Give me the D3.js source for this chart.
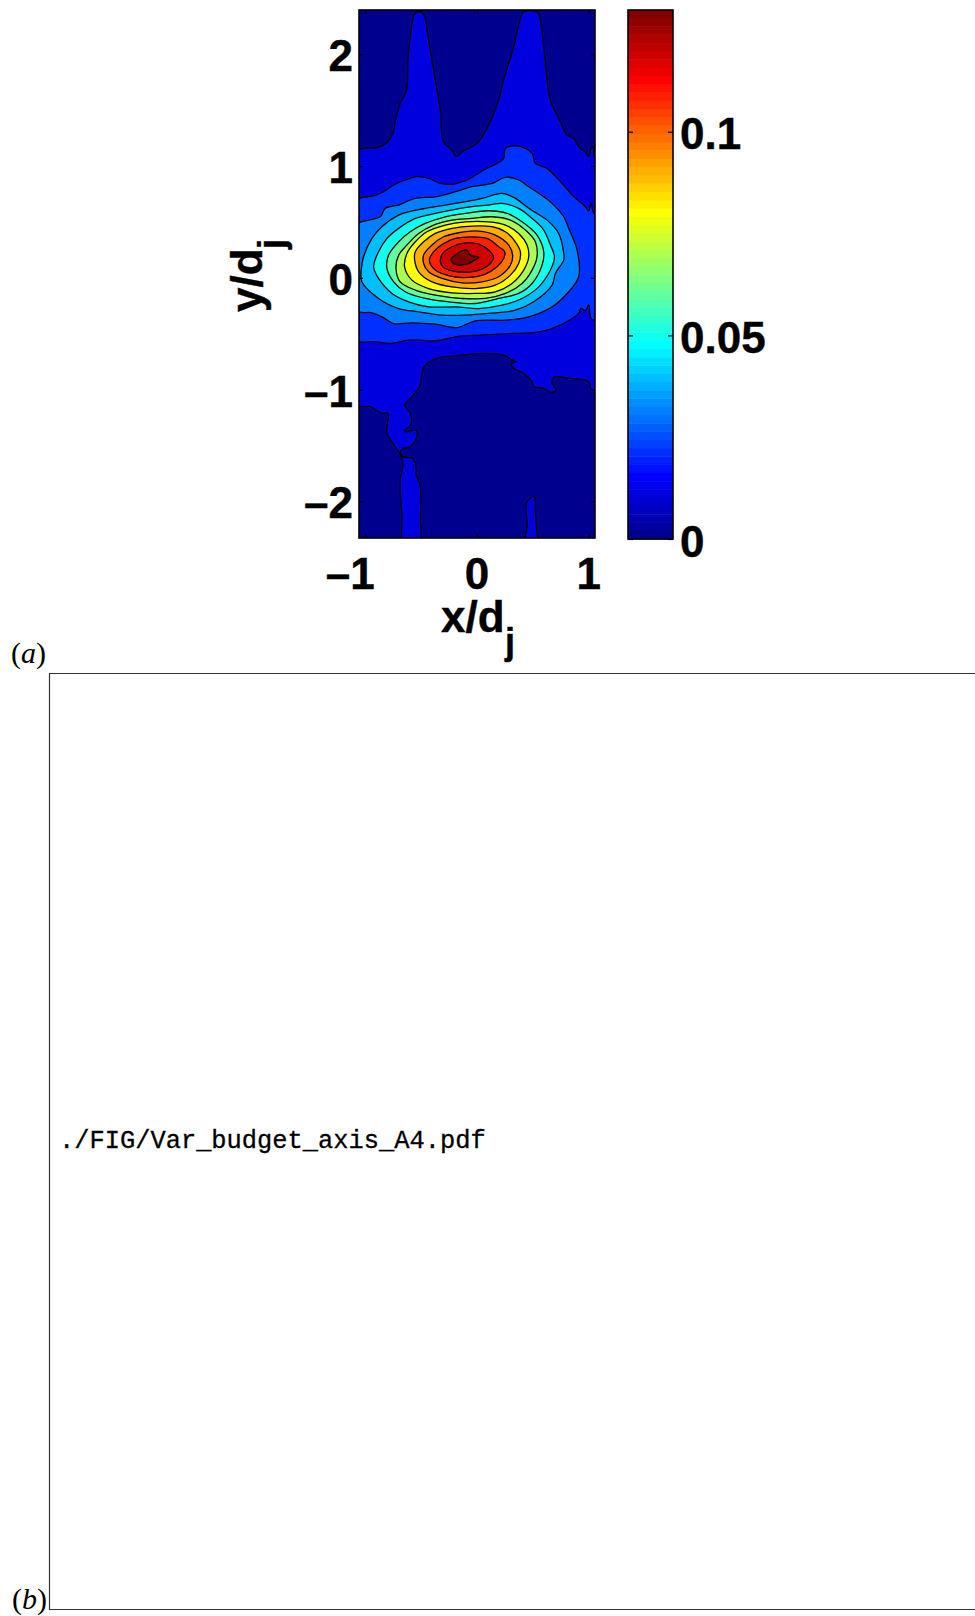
<!DOCTYPE html>
<html>
<head>
<meta charset="utf-8">
<script src="https://cdn.jsdelivr.net/npm/d3@7"></script>
<style>
  body { margin: 0; background: #fff; overflow: hidden; }
  svg { display: block; }
  text { fill: #000; }
  .tick-label { font-family: "Liberation Sans", Arial, sans-serif; font-weight: bold; font-size: 44px; stroke: #000; stroke-width: 0.4; }
  .tick line { stroke: #000; stroke-width: 1.2; }
  .domain { display: none; }
</style>
</head>
<body>
<div id="viz"></div>
<script>
var width = 975;
var height = 1616;

// axis limits and ticks
var xLimits = [-1.056, 1.056];
var yLimits = [-2.328, 2.396];
var xTicks = [-1, 0, 1];
var yTicks = [-2, -1, 0, 1, 2];
var colorLimits = [0, 0.1299];
var colorTicks = [0, 0.05, 0.1];

var levels = [0.01, 0.02, 0.03, 0.04, 0.05, 0.06, 0.07, 0.08, 0.09, 0.1, 0.11, 0.12, 0.13];

// contour outlines as [x/dj, y/dj], outermost first. Points past +-1.08 are outside the frame.
var contour01 = [[-1.08,1.128],[-0.896,1.164],[-0.806,1.209],[-0.752,1.292],[-0.731,1.397],[-0.687,1.561],[-0.633,1.665],[-0.618,1.949],[-0.597,2.158],[-0.567,2.34],[-0.545,2.375],[-0.49,2.375],[-0.468,2.34],[-0.433,2.127],[-0.373,1.769],[-0.328,1.501],[-0.299,1.218],[-0.224,1.143],[-0.185,1.084],[-0.134,1.128],[0,1.203],[0.09,1.337],[0.194,1.59],[0.239,1.769],[0.328,2.067],[0.395,2.34],[0.42,2.38],[0.535,2.38],[0.56,2.34],[0.597,2.067],[0.657,1.59],[0.746,1.397],[0.806,1.277],[0.866,1.247],[0.91,1.173],[0.979,1.114],[1,1.084],[1.021,1.158],[1.039,1.173],[1.051,1.084],[1.08,1.084],[1.08,-1.003],[1.021,-0.998],[1,-0.929],[0.836,-0.899],[0.687,-0.89],[0.672,-0.944],[0.71,-1.003],[0.657,-1.024],[0.597,-0.989],[0.507,-0.974],[0.493,-0.929],[0.418,-0.854],[0.328,-0.81],[0.313,-0.765],[0.352,-0.75],[0.313,-0.735],[0.239,-0.69],[0.06,-0.676],[-0.209,-0.699],[-0.358,-0.72],[-0.463,-0.78],[-0.493,-0.854],[-0.507,-0.959],[-0.582,-1.063],[-0.648,-1.138],[-0.597,-1.212],[-0.588,-1.302],[-0.651,-1.376],[-0.543,-1.367],[-0.543,-1.436],[-0.597,-1.51],[-0.657,-1.525],[-0.687,-1.555],[-0.663,-1.6],[-0.582,-1.615],[-0.552,-1.66],[-0.543,-1.764],[-0.507,-1.868],[-0.507,-2.166],[-0.513,-2.36],[-0.657,-2.36],[-0.672,-2.137],[-0.687,-1.808],[-0.663,-1.689],[-0.672,-1.615],[-0.731,-1.51],[-0.806,-1.391],[-0.797,-1.212],[-0.851,-1.212],[-0.955,-1.153],[-1.08,-1.132]];
var island01 = [[0.433,-2.36],[0.448,-2.226],[0.442,-2.017],[0.463,-1.987],[0.513,-1.957],[0.522,-2.077],[0.537,-2.285],[0.552,-2.36]];
var contour02 = [[-1.08,0.69],[-0.925,0.732],[-0.836,0.77],[-0.746,0.83],[-0.642,0.875],[-0.537,0.905],[-0.433,0.89],[-0.328,0.845],[-0.209,0.839],[-0.09,0.875],[0.06,0.964],[0.179,1.024],[0.239,1.069],[0.254,1.158],[0.373,1.179],[0.493,1.113],[0.522,1.024],[0.627,0.979],[0.746,0.86],[0.866,0.726],[0.97,0.636],[1,0.6],[1.021,0.666],[1.045,0.577],[1.08,0.577],[1.08,-0.377],[1.021,-0.363],[1,-0.243],[0.97,-0.294],[0.931,-0.273],[0.91,-0.318],[0.746,-0.422],[0.567,-0.482],[0.328,-0.497],[0.03,-0.512],[-0.179,-0.526],[-0.358,-0.562],[-0.597,-0.556],[-0.776,-0.586],[-0.925,-0.571],[-1.08,-0.556]];
var contour03 = [[-1.08,0.472],[-0.97,0.516],[-0.866,0.546],[-0.821,0.621],[-0.701,0.651],[-0.552,0.71],[-0.373,0.725],[-0.194,0.77],[-0.045,0.815],[0.134,0.845],[0.254,0.899],[0.373,0.875],[0.463,0.815],[0.672,0.666],[0.776,0.546],[0.821,0.442],[0.896,0.248],[0.91,0.009],[0.821,-0.125],[0.672,-0.26],[0.463,-0.349],[0.254,-0.379],[-0.015,-0.385],[-0.179,-0.445],[-0.373,-0.415],[-0.582,-0.403],[-0.746,-0.409],[-0.851,-0.349],[-0.94,-0.313],[-1.08,-0.29]];
var contour04 = [[-1.036,0.069],[-1.015,0.188],[-0.94,0.352],[-0.851,0.457],[-0.701,0.561],[-0.567,0.6],[-0.463,0.621],[-0.284,0.651],[-0.104,0.681],[0.045,0.71],[0.224,0.755],[0.328,0.719],[0.478,0.612],[0.627,0.516],[0.731,0.397],[0.776,0.218],[0.776,0.158],[0.701,0.039],[0.672,-0.066],[0.507,-0.215],[0.343,-0.29],[0.104,-0.319],[-0.104,-0.334],[-0.313,-0.334],[-0.522,-0.304],[-0.701,-0.275],[-0.881,-0.185],[-1.03,-0.036]];
var contour05 = [[-0.925,0.099],[-0.881,0.233],[-0.806,0.352],[-0.701,0.442],[-0.552,0.531],[-0.373,0.576],[-0.194,0.612],[-0.045,0.636],[0.104,0.651],[0.224,0.666],[0.373,0.621],[0.493,0.531],[0.597,0.427],[0.657,0.293],[0.693,0.188],[0.657,0.069],[0.552,-0.081],[0.403,-0.185],[0.224,-0.245],[0.015,-0.275],[-0.194,-0.26],[-0.433,-0.26],[-0.612,-0.215],[-0.761,-0.14],[-0.881,-0.006]];
var contour06 = [[-0.806,0.084],[-0.791,0.203],[-0.701,0.322],[-0.597,0.412],[-0.463,0.487],[-0.284,0.546],[-0.104,0.576],[0.104,0.6],[0.269,0.576],[0.403,0.501],[0.537,0.382],[0.597,0.233],[0.582,0.113],[0.493,-0.051],[0.373,-0.14],[0.194,-0.185],[-0.015,-0.23],[-0.254,-0.215],[-0.463,-0.185],[-0.642,-0.125],[-0.746,-0.036]];
var contour07 = [[-0.725,0.084],[-0.701,0.203],[-0.627,0.293],[-0.522,0.397],[-0.388,0.472],[-0.224,0.516],[-0.045,0.531],[0.134,0.546],[0.299,0.516],[0.433,0.427],[0.522,0.322],[0.537,0.188],[0.493,0.069],[0.403,-0.051],[0.254,-0.14],[0.075,-0.185],[-0.134,-0.185],[-0.373,-0.155],[-0.552,-0.11],[-0.687,-0.036]];
var contour08 = [[-0.648,0.099],[-0.627,0.218],[-0.552,0.322],[-0.448,0.412],[-0.284,0.472],[-0.104,0.501],[0.104,0.501],[0.254,0.472],[0.373,0.397],[0.448,0.293],[0.463,0.188],[0.418,0.069],[0.313,-0.051],[0.164,-0.125],[-0.015,-0.14],[-0.224,-0.134],[-0.433,-0.096],[-0.582,-0.021]];
var contour09 = [[-0.558,0.158],[-0.552,0.233],[-0.478,0.322],[-0.373,0.397],[-0.224,0.442],[-0.045,0.463],[0.134,0.457],[0.254,0.412],[0.343,0.322],[0.388,0.233],[0.373,0.128],[0.299,0.024],[0.164,-0.066],[-0.015,-0.096],[-0.224,-0.081],[-0.403,-0.036],[-0.522,0.054]];
var contour10 = [[-0.478,0.128],[-0.478,0.203],[-0.403,0.293],[-0.299,0.367],[-0.164,0.403],[0.015,0.418],[0.164,0.382],[0.284,0.293],[0.319,0.203],[0.299,0.113],[0.194,0.009],[0.045,-0.036],[-0.134,-0.045],[-0.313,-0.006],[-0.433,0.054]];
var contour11 = [[-0.427,0.158],[-0.388,0.233],[-0.307,0.301],[-0.194,0.352],[-0.045,0.367],[0.09,0.352],[0.194,0.278],[0.248,0.233],[0.239,0.173],[0.179,0.099],[0.075,0.033],[-0.075,0.003],[-0.239,0.015],[-0.373,0.069]];
var contour12 = [[-0.328,0.143],[-0.307,0.218],[-0.224,0.278],[-0.104,0.313],[0.015,0.301],[0.104,0.248],[0.149,0.182],[0.119,0.128],[0.045,0.078],[-0.075,0.051],[-0.209,0.06],[-0.299,0.093]];
var contour13 = [[-0.233,0.164],[-0.194,0.203],[-0.134,0.242],[-0.09,0.248],[-0.06,0.203],[0.015,0.182],[-0.03,0.152],[-0.09,0.122],[-0.194,0.119]];

var outlines = [
    {level: levels[0], pts: contour01},
    {level: levels[0], pts: island01},
    {level: levels[1], pts: contour02},
    {level: levels[2], pts: contour03},
    {level: levels[3], pts: contour04},
    {level: levels[4], pts: contour05},
    {level: levels[5], pts: contour06},
    {level: levels[6], pts: contour07},
    {level: levels[7], pts: contour08},
    {level: levels[8], pts: contour09},
    {level: levels[9], pts: contour10},
    {level: levels[10], pts: contour11},
    {level: levels[11], pts: contour12},
    {level: levels[12], pts: contour13}
];

var svg = d3.select("#viz").append("svg")
    .attr("width", width)
    .attr("height", height);

var x = d3.scaleLinear().domain(xLimits).range([359, 595]);
var y = d3.scaleLinear().domain(yLimits).range([538, 10]);
var cbarY = d3.scaleLinear().domain(colorLimits).range([539, 10]);

// jet colormap, 64 steps like the matlab one
var jet = d3.scaleLinear()
    .domain([1, 8, 24, 40, 56, 64])
    .range(["#00008f", "#0000ff", "#00ffff", "#ffff00", "#ff0000", "#800000"]);

function levelColor(v) {
    return jet(Math.round(1 + v / 0.13 * 63));
}

function tickText(d) {
    return String(d).replace("-", "\u2013");
}

svg.append("clipPath").attr("id", "plot-clip")
    .append("rect")
    .attr("x", x.range()[0])
    .attr("y", y.range()[1])
    .attr("width", x.range()[1] - x.range()[0])
    .attr("height", y.range()[0] - y.range()[1]);

var plot = svg.append("g").attr("clip-path", "url(#plot-clip)");

// background level
plot.append("rect")
    .attr("x", x.range()[0])
    .attr("y", y.range()[1])
    .attr("width", x.range()[1] - x.range()[0])
    .attr("height", y.range()[0] - y.range()[1])
    .attr("fill", levelColor(0));

var contourLine = d3.line()
    .x(function(d) { return x(d[0]); })
    .y(function(d) { return y(d[1]); })
    .curve(d3.curveCatmullRomClosed.alpha(0.5));

plot.selectAll("path.level")
    .data(outlines)
    .enter().append("path")
    .attr("class", "level")
    .attr("d", function(d) { return contourLine(d.pts); })
    .attr("fill", function(d) { return levelColor(d.level); })
    .attr("stroke", "#000")
    .attr("stroke-width", 1.3);

// axes on all four sides, ticks pointing in
var tickLen = 4;
svg.append("g")
    .attr("transform", "translate(0," + y.range()[0] + ")")
    .call(d3.axisBottom(x).tickValues(xTicks).tickSize(-tickLen).tickFormat(""));
svg.append("g")
    .attr("transform", "translate(0," + y.range()[1] + ")")
    .call(d3.axisTop(x).tickValues(xTicks).tickSize(-tickLen).tickFormat(""));
svg.append("g")
    .attr("transform", "translate(" + x.range()[0] + ",0)")
    .call(d3.axisLeft(y).tickValues(yTicks).tickSize(-tickLen).tickFormat(""));
svg.append("g")
    .attr("transform", "translate(" + x.range()[1] + ",0)")
    .call(d3.axisRight(y).tickValues(yTicks).tickSize(-tickLen).tickFormat(""));

svg.append("rect")
    .attr("x", x.range()[0])
    .attr("y", y.range()[1])
    .attr("width", x.range()[1] - x.range()[0])
    .attr("height", y.range()[0] - y.range()[1])
    .attr("fill", "none")
    .attr("stroke", "#000")
    .attr("stroke-width", 1.6);

svg.selectAll("text.xtick")
    .data(xTicks)
    .enter().append("text")
    .attr("class", "tick-label xtick")
    .attr("x", function(d) { return x(d) + (d < 0 ? -15 : 0); })
    .attr("y", 589)
    .attr("text-anchor", "middle")
    .text(tickText);

svg.selectAll("text.ytick")
    .data(yTicks)
    .enter().append("text")
    .attr("class", "tick-label ytick")
    .attr("x", 353)
    .attr("y", function(d) { return y(d) + 17; })
    .attr("text-anchor", "end")
    .text(tickText);

// axis titles, the j is a separate subscript
svg.append("text").attr("class", "tick-label").attr("x", 441).attr("y", 632).text("x/d");
svg.append("text").attr("class", "tick-label").style("font-size", "36px").attr("x", 505).attr("y", 654).text("j");

svg.append("text").attr("class", "tick-label")
    .attr("transform", "translate(262,312) rotate(-90)").text("y/d");
svg.append("text").attr("class", "tick-label").style("font-size", "36px")
    .attr("transform", "translate(284,249) rotate(-90)").text("j");

// colorbar
var cbarLeft = 628, cbarRight = 673;
var cbarSteps = d3.range(64);
var cbarStep = 0.13 / 64;

svg.selectAll("rect.band")
    .data(cbarSteps)
    .enter().append("rect")
    .attr("class", "band")
    .attr("x", cbarLeft)
    .attr("width", cbarRight - cbarLeft)
    .attr("y", function(i) { return Math.max(cbarY.range()[1], cbarY((i + 1) * cbarStep)); })
    .attr("height", function(i) { return cbarY(i * cbarStep) - Math.max(cbarY.range()[1], cbarY((i + 1) * cbarStep)) + 0.5; })
    .attr("fill", function(i) { return jet(i + 1); });

svg.append("g")
    .attr("transform", "translate(" + cbarLeft + ",0)")
    .call(d3.axisLeft(cbarY).tickValues(colorTicks).tickSize(-5).tickFormat(""));
svg.append("g")
    .attr("transform", "translate(" + cbarRight + ",0)")
    .call(d3.axisRight(cbarY).tickValues(colorTicks).tickSize(-5).tickFormat(""));

svg.append("rect")
    .attr("x", cbarLeft)
    .attr("y", cbarY.range()[1])
    .attr("width", cbarRight - cbarLeft)
    .attr("height", cbarY.range()[0] - cbarY.range()[1])
    .attr("fill", "none")
    .attr("stroke", "#000")
    .attr("stroke-width", 1.6);

svg.selectAll("text.ctick")
    .data(colorTicks)
    .enter().append("text")
    .attr("class", "tick-label ctick")
    .attr("x", 680)
    .attr("y", function(d) { return cbarY(d) + 17.7; })
    .text(tickText);

// panel labels and the missing figure box
function panelLabel(letter, px, py) {
    var t = svg.append("text")
        .attr("x", px)
        .attr("y", py)
        .style("font-family", "'Liberation Serif', serif")
        .style("font-size", "30px");
    t.append("tspan").text("(");
    t.append("tspan").style("font-style", "italic").text(letter);
    t.append("tspan").text(")");
}
panelLabel("a", 11, 663);
panelLabel("b", 12, 1609);

svg.append("path")
    .attr("d", d3.line()([[width, 673.5], [49.5, 673.5], [49.5, 1609.5], [width, 1609.5]]))
    .attr("fill", "none")
    .attr("stroke", "#333")
    .attr("stroke-width", 1.2);

svg.append("text")
    .attr("x", 59)
    .attr("y", 1148)
    .style("font-family", "'Liberation Mono', monospace")
    .style("font-size", "25.4px")
    .style("stroke", "#000")
    .style("stroke-width", "0.3px")
    .text("./FIG/Var_budget_axis_A4.pdf");
</script>
</body>
</html>
